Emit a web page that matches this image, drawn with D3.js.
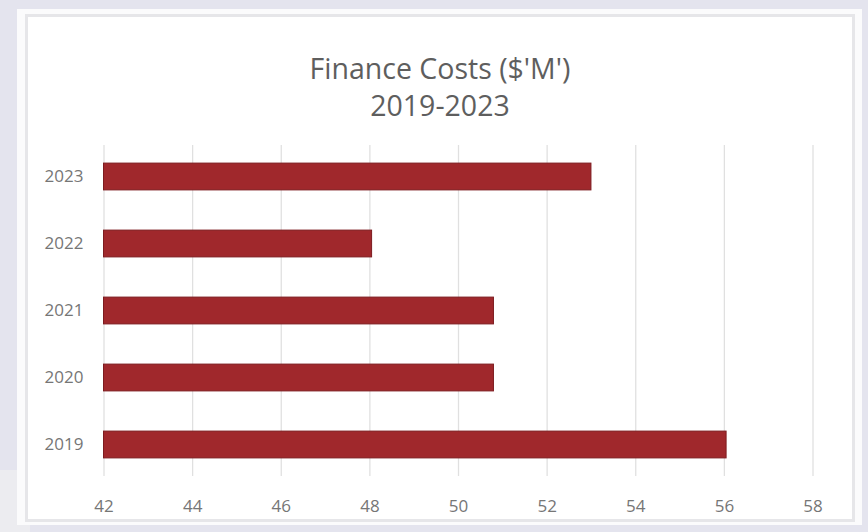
<!DOCTYPE html>
<html>
<head>
<meta charset="utf-8">
<script src="https://cdn.jsdelivr.net/npm/d3@7"></script>
<style>
  html, body { margin: 0; padding: 0; background: #e6e6ef; }
  svg { display: block; }
</style>
</head>
<body>
<svg id="chart" width="868" height="532"></svg>
<script>
// Finance costs by year, $ millions
const years = ["2019", "2020", "2021", "2022", "2023"];
const costs = [56.05, 50.8, 50.8, 48.05, 53.0];
const xTicks = [42, 44, 46, 48, 50, 52, 54, 56, 58];
const titleLines = ["Finance Costs ($'M')", "2019-2023"];

const svg = d3.select("#chart");
const W = 868, H = 532;

// page backdrop
svg.append("rect").attr("width", W).attr("height", H).attr("fill", "#e4e4ee");
svg.append("rect").attr("x", 0).attr("y", 470).attr("width", 30).attr("height", 62).attr("fill", "#ececf0");

// chart card
svg.append("rect").attr("x", 17).attr("y", 9).attr("width", 845).attr("height", 516)
  .attr("fill", "#fbfbfc");
svg.append("rect").attr("x", 26.5).attr("y", 15.5).attr("width", 827).attr("height", 505)
  .attr("fill", "#ffffff").attr("stroke", "#e6e6e9").attr("stroke-width", 3);

const font = "'Open Sans', 'Noto Sans', sans-serif";

// title
svg.append("g").selectAll("text").data(titleLines).join("text")
  .attr("x", 440).attr("y", (d, i) => 79 + i * 37)
  .attr("text-anchor", "middle")
  .attr("font-family", font).attr("font-size", 28.5)
  .attr("fill", "#5e5e5e")
  .text(d => d);

const x = d3.scaleLinear().domain([42, 58]).range([103.5, 812.5]);
const y = d3.scaleBand().domain(years.slice().reverse()).range([143, 478])
  .paddingInner(0.6).paddingOuter(0.3);

// vertical gridlines
svg.append("g").attr("transform", "translate(0,476)")
  .call(d3.axisBottom(x).tickValues(xTicks).tickSize(-331).tickFormat(""))
  .call(g => g.select(".domain").remove())
  .call(g => g.selectAll(".tick line").attr("stroke", "#e0e0e0").attr("stroke-width", 1.3));

// bars
svg.append("g").selectAll("rect").data(years).join("rect")
  .attr("x", x(42))
  .attr("y", d => y(d))
  .attr("width", (d, i) => x(costs[i]) - x(42))
  .attr("height", y.bandwidth())
  .attr("fill", "#a0282c")
  .attr("stroke", "#7d1b1f").attr("stroke-width", 1);

// x tick labels
svg.append("g").attr("transform", "translate(0,476)")
  .call(d3.axisBottom(x).tickValues(xTicks).tickSize(0).tickPadding(24).tickFormat(d3.format("d")))
  .call(g => g.select(".domain").remove())
  .call(g => g.selectAll("text").attr("font-family", font).attr("font-size", 17).attr("fill", "#767676"));

// y category labels
svg.append("g").attr("transform", `translate(${x(42)},0)`)
  .call(d3.axisLeft(y).tickSize(0).tickPadding(20))
  .call(g => g.select(".domain").remove())
  .call(g => g.selectAll("text").attr("font-family", font).attr("font-size", 17).attr("fill", "#767676"));
</script>
</body>
</html>
